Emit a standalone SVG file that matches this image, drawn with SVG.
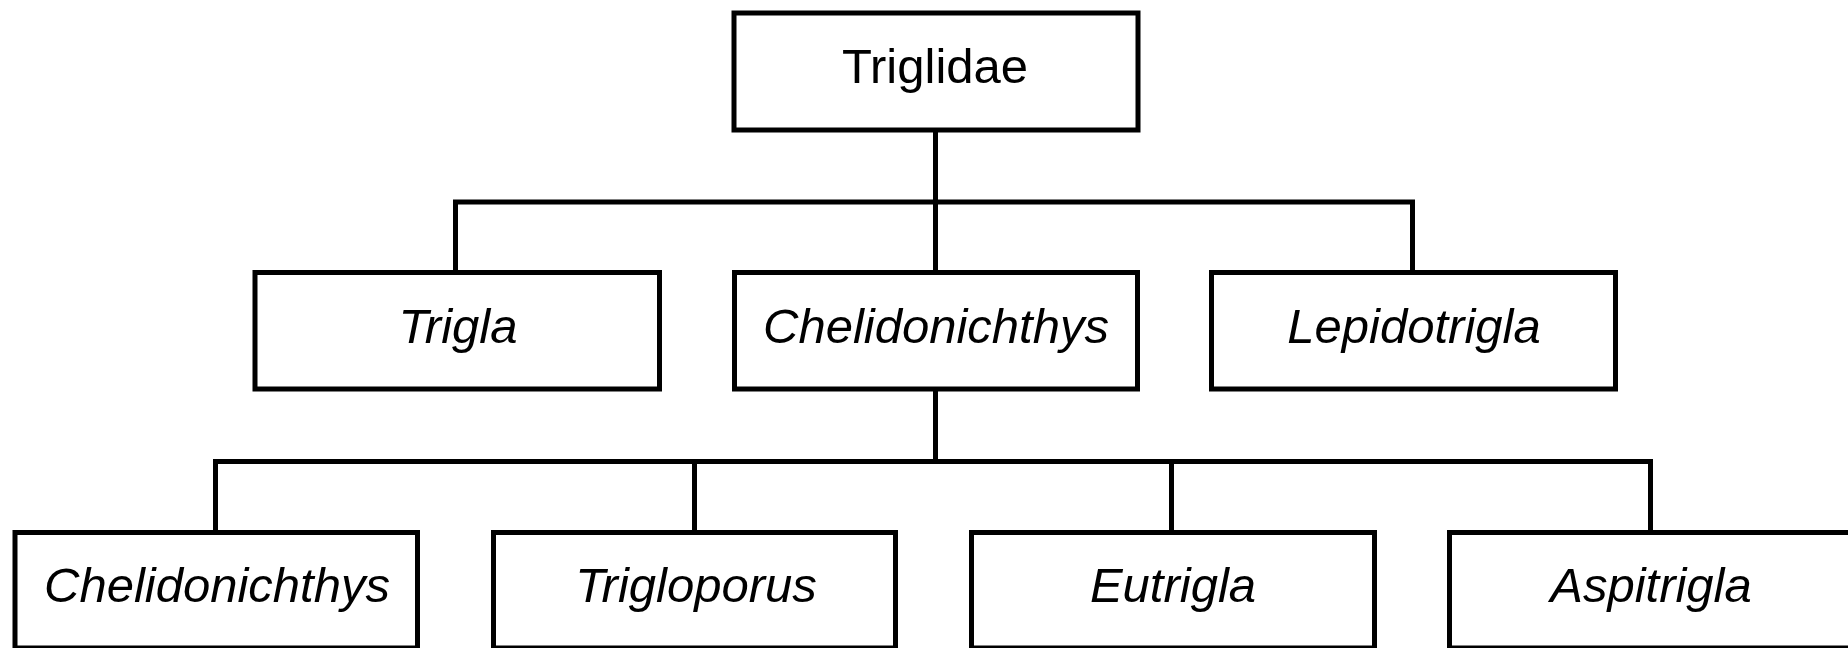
<svg xmlns="http://www.w3.org/2000/svg" width="1848" height="648" viewBox="0 0 1848 648">
<style>
.box{fill:#fff;stroke:#000;stroke-width:5}
.conn{fill:none;stroke:#000;stroke-width:5;stroke-linecap:square;stroke-linejoin:miter}
text{font-family:"Liberation Sans",Arial,sans-serif;font-size:49px;fill:#000;text-anchor:middle}
.it{font-style:italic}
</style>
<rect width="1848" height="648" fill="#fff"/>
<g id="connectors">
<path class="conn" d="M935.5 130 V202 M455.5 202 H1412.5 M455.5 202 V272.5 M935.5 202 V272.5 M1412.5 202 V272.5"/>
<path class="conn" d="M935.5 389 V461.5 M215.5 461.5 H1650.5 M215.5 461.5 V532.5 M694.5 461.5 V532.5 M1171.5 461.5 V532.5 M1650.5 461.5 V532.5"/>
</g>
<g id="triglidae"><rect class="box" x="734" y="13" width="404" height="117"/><text x="935" y="83">Triglidae</text></g>
<g id="trigla"><rect class="box" x="255" y="272.5" width="404.5" height="116.5"/><text class="it" x="458" y="343">Trigla</text></g>
<g id="chelidonichthys-genus"><rect class="box" x="734.5" y="272.5" width="403" height="116.5"/><text class="it" x="936" y="343">Chelidonichthys</text></g>
<g id="lepidotrigla"><rect class="box" x="1211.5" y="272.5" width="404" height="116.5"/><text class="it" x="1414" y="343">Lepidotrigla</text></g>
<g id="chelidonichthys-subgenus"><rect class="box" x="15" y="532.5" width="402.5" height="115.5"/><text class="it" x="217" y="602">Chelidonichthys</text></g>
<g id="trigloporus"><rect class="box" x="493.5" y="532.5" width="402" height="115.5"/><text class="it" x="696" y="602">Trigloporus</text></g>
<g id="eutrigla"><rect class="box" x="971.5" y="532.5" width="403" height="115.5"/><text class="it" x="1173" y="602">Eutrigla</text></g>
<g id="aspitrigla"><rect class="box" x="1449.5" y="532.5" width="403" height="115.5"/><text class="it" x="1651" y="602">Aspitrigla</text></g>
</svg>
